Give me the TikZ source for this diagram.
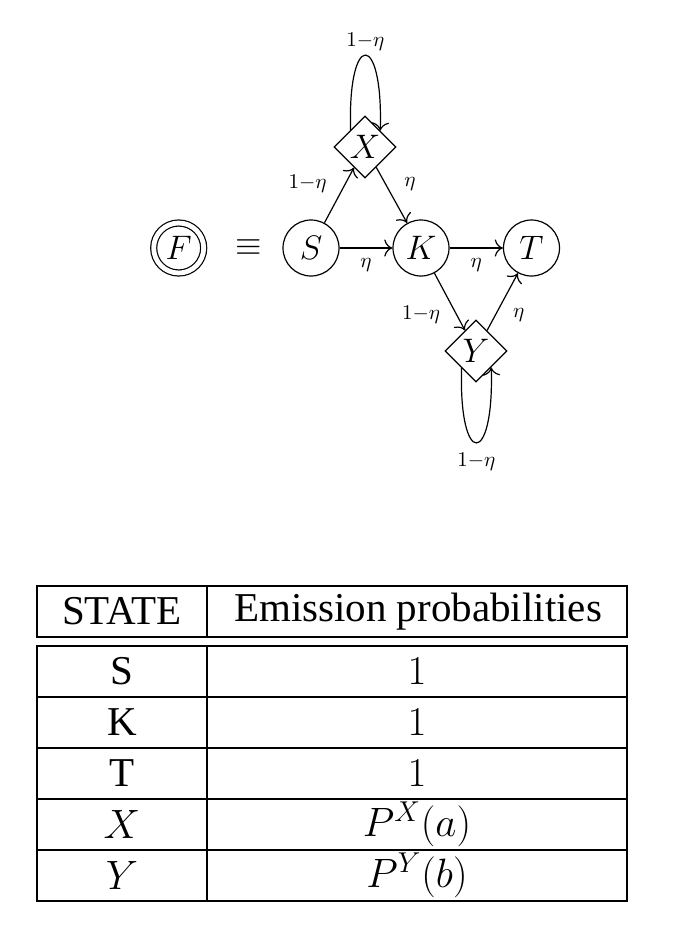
\documentclass[tikz,border=0pt]{standalone}
\usepackage{fix-cm}
\usepackage{fontspec}
\setmainfont{Liberation Serif}
\usetikzlibrary{shapes.geometric,arrows.meta}
\tikzset{
	state/.style={circle, draw, semithick, minimum size=28pt, inner sep=0pt, font=\fontsize{17}{20}\selectfont},
	silent/.style={diamond, draw, semithick, minimum size=31pt, inner sep=0pt, font=\fontsize{17}{20}\selectfont},
	prob/.style={font=\fontsize{10.5}{12}\selectfont, inner sep=2pt},
	cell/.style={font=\fontsize{20.5}{24}\selectfont},
	rule/.style={line width=0.9pt}
}

\begin{document}
\begin{tikzpicture}[x=0.5pt, y=0.5pt, semithick, >={To[scale=1.4]}]
			%%%%% START %%%%%
			\useasboundingbox (0, 0) rectangle (685, -933);
			
			% states
			\node[state, double, double distance=2.4pt, minimum size=25pt] (F) at (178.7, -248) {$F$};
			\node[font=\fontsize{17}{20}\selectfont] (eq) at (249, -248) {$\equiv$};
			\node[state] (S) at (311, -248) {$S$};
			\node[state] (K) at (421, -248) {$K$};
			\node[state] (T) at (531.5, -248) {$T$};
			\node[silent] (X) at (365, -147) {$X$};
			\node[silent] (Y) at (476, -351) {$Y$};
			
			% transitions
			\draw[->] (S) -- (X) node[prob, midway, above left, xshift=-4pt, yshift=-1pt] {$1{-}\eta$};
			\draw[->] (X) -- (K) node[prob, midway, above right, xshift=4pt] {$\eta$};
			\draw[->] (S) -- (K) node[prob, midway, below=3pt] {$\eta$};
			\draw[->] (K) -- (T) node[prob, midway, below=3pt] {$\eta$};
			\draw[->] (K) -- (Y) node[prob, midway, below left, xshift=-2.5pt] {$1{-}\eta$};
			\draw[->] (Y) -- (T) node[prob, midway, below right, xshift=3pt, yshift=-1pt] {$\eta$};
			\draw[->] (X.130) .. controls +(-3, 100) and +(3, 100) .. (X.47) node[prob, midway, above=0pt] {$1{-}\eta$};
			\draw[->] (Y.230) .. controls +(-3, -100) and +(3, -100) .. (Y.313) node[prob, midway, below=3pt] {$1{-}\eta$};
			
			% table
			\draw[rule] (37, -586) rectangle (627, -637);
			\draw[rule] (207, -586) -- (207, -637);
			\draw[rule] (37, -646) rectangle (627, -901);
			\draw[rule] (207, -646) -- (207, -901);
			\draw[rule] (37, -697) -- (627, -697);
			\draw[rule] (37, -748) -- (627, -748);
			\draw[rule] (37, -799) -- (627, -799);
			\draw[rule] (37, -850) -- (627, -850);
			
			\node[cell] (hstate) at (122, -611.5) {STATE};
			\node[cell] (hemit) at (418, -611.5) {Emission probabilities};
			\node[cell] (cS) at (122, -671.5) {S};
			\node[cell] (pS) at (417, -671.5) {$1$};
			\node[cell] (cK) at (122, -722.5) {K};
			\node[cell] (pK) at (417, -722.5) {$1$};
			\node[cell] (cT) at (122, -773.5) {T};
			\node[cell] (pT) at (417, -773.5) {$1$};
			\node[cell] (cX) at (122, -824.5) {$X$};
			\node[cell] (pX) at (417, -824.5) {$P^X(a)$};
			\node[cell] (cY) at (122, -875.5) {$Y$};
			\node[cell] (pY) at (417, -875.5) {$P^Y(b)$};
			%%%%% END %%%%%
\end{tikzpicture}
\end{document}
